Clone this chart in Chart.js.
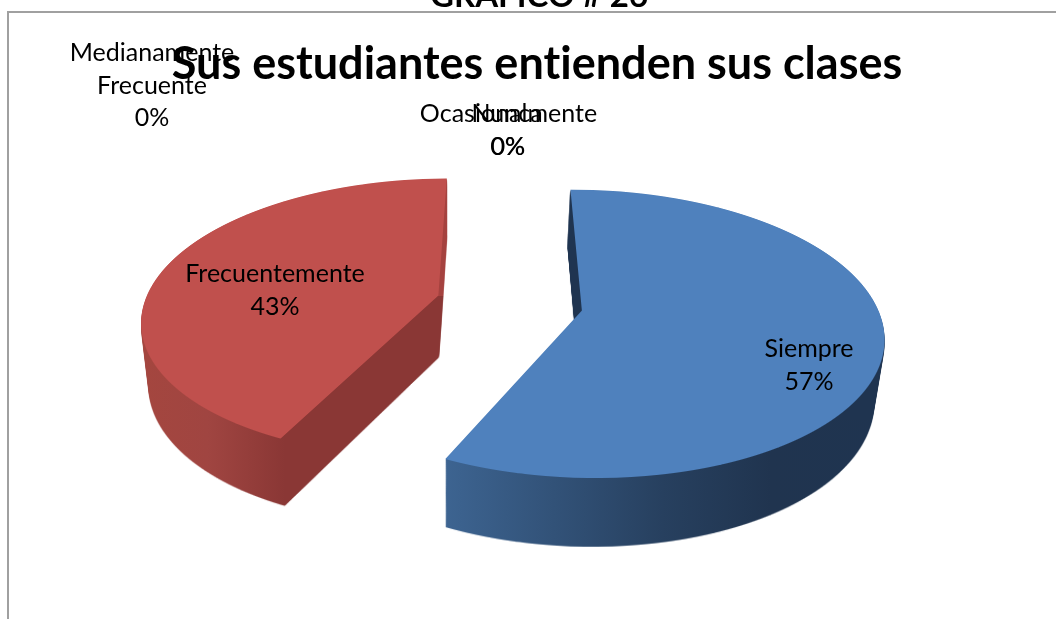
<!DOCTYPE html>
<html lang="es">
<head>
<meta charset="utf-8">
<style>html,body{margin:0;padding:0;background:#fff}canvas{display:block}</style>
<script src="https://cdn.jsdelivr.net/npm/chart.js@4/dist/chart.umd.min.js"></script>
</head>
<body>
<canvas id="c" width="1056" height="619" style="width:1056px;height:619px"></canvas>
<script>
const categories = ['Siempre', 'Frecuentemente', 'Medianamente\nFrecuente', 'Ocasionalmente', 'Nunca'];
const percentages = [57.14, 42.86, 0, 0, 0];
const percentLabels = ['57%', '43%', '0%', '0%', '0%'];
const sliceColors = ['#4f81bd', '#c0504d', '#9bbb59', '#8064a2', '#4bacc6'];
const chartTitle = 'Sus estudiantes entienden sus clases';
const pageHeading = 'GRAFICO # 26';

/* Label placement (centre x, first-line baseline y) */
const labelAnchors = [[809, 357], [275, 282], [152, 61], [508.5, 122], [507, 122]];
const percentNudge = [0, 0, 0, -0.5, 0.5];

/* Camera that tilts the flat pie into perspective */
const camera = {cx: 509.5, cy: 303, S: 294, K: 138, P: 0.16, explode: 0.25};
/* Extrusion of the pie: bottom face relative to top face */
const depth = {steps: 70, vx: 450, shrink: 0.025, dy: 58, dyRef: 185, dySlope: 0.0365};
const wallShades = [
  {from: 445, to: 880, stops: [[0, '#3d6491'], [0.5, '#27405f'], [0.75, '#20344f'], [1, '#1f3450']], patch: ['#1f3450', 420]},
  {from: 145, to: 285, stops: [[0, '#a4463f'], [0.45, '#a04541'], [1, '#8a3735']], patch: ['#a5423f', 296]}
];

const W = 1056, H = 619;

function warpSlice(arc, R, Cx, Cy) {
  const sil = document.createElement('canvas');
  sil.width = W; sil.height = H;
  const c = sil.getContext('2d');
  const {cx, cy, S, K, P, explode} = camera;
  const mid = (arc.startAngle + arc.endAngle) / 2;
  const ex = Math.cos(mid) * explode * R, ey = Math.sin(mid) * explode * R;
  for (let r = 120; r < 520; r++) {
    const d = r + 0.5 - cy;
    const Y = d / (K + P * d);
    if (Math.abs(Y) > 1.5) continue;
    const w = 1 / (1 - P * Y);
    const a = S * w / R;
    const e = K * w * w / R;
    c.save();
    c.beginPath(); c.rect(0, r, W, 1); c.clip();
    c.setTransform(a, 0, 0, e, cx - a * Cx, r + 0.5 - e * (Cy + Y * R));
    c.translate(ex, ey);
    arc.draw(c);
    c.restore();
  }
  return sil;
}

function buildWall(sil, shade) {
  const wall = document.createElement('canvas');
  wall.width = W; wall.height = H;
  const c = wall.getContext('2d');
  for (let i = depth.steps; i >= 1; i--) {
    const t = i / depth.steps;
    const sx = 1 - depth.shrink * t;
    const sy = 1 + depth.dySlope * t;
    c.setTransform(sx, 0, 0, sy, depth.vx * (1 - sx), t * (depth.dy - depth.dySlope * depth.dyRef));
    c.drawImage(sil, 0, 0);
  }
  c.setTransform(1, 0, 0, 1, 0, 0);
  c.globalCompositeOperation = 'source-atop';
  const g = c.createLinearGradient(shade.from, 0, shade.to, 0);
  shade.stops.forEach(s => g.addColorStop(s[0], s[1]));
  c.fillStyle = g;
  c.fillRect(0, 0, W, H);
  c.fillStyle = shade.patch[0];
  c.fillRect(0, 0, W, shade.patch[1]);
  return wall;
}

const pie3d = {
  id: 'pie3d',
  beforeDraw(chart) {
    const ctx = chart.ctx;
    ctx.letterSpacing = '0.01px';
    ctx.save();
    ctx.strokeStyle = '#a0a0a0';
    ctx.lineWidth = 2;
    ctx.beginPath();
    ctx.moveTo(8, H); ctx.lineTo(8, 12); ctx.lineTo(W, 12);
    ctx.stroke();
    ctx.fillStyle = '#000';
    ctx.font = 'bold 33px Lato';
    ctx.textAlign = 'center';
    ctx.textBaseline = 'alphabetic';
    ctx.fillText(pageHeading, 539, 7);
    ctx.restore();
  },
  beforeDatasetsDraw(chart) {
    const ctx = chart.ctx;
    const arcs = chart.getDatasetMeta(0).data;
    const faces = [], walls = [];
    arcs.forEach((arc, i) => {
      if (!(arc.circumference > 0)) return;
      const sil = warpSlice(arc, arc.outerRadius, arc.x, arc.y);
      faces.push(sil);
      walls.push(buildWall(sil, wallShades[i]));
    });
    walls.forEach(w => ctx.drawImage(w, 0, 0));
    faces.forEach(f => ctx.drawImage(f, 0, 0));
    return false;
  },
  afterDraw(chart) {
    const ctx = chart.ctx;
    ctx.save();
    ctx.fillStyle = '#000';
    ctx.font = '25px Lato';
    ctx.textAlign = 'center';
    ctx.textBaseline = 'alphabetic';
    const lh = 32.5;
    categories.forEach((cat, i) => {
      const lines = cat.split('\n').concat(percentLabels[i]);
      lines.forEach((ln, j) => {
        const isPct = j === lines.length - 1;
        ctx.fillText(ln, labelAnchors[i][0] + (isPct ? percentNudge[i] : 0), labelAnchors[i][1] + j * lh);
      });
    });
    ctx.restore();
  }
};

new Chart(document.getElementById('c'), {
  type: 'pie',
  data: {
    labels: categories,
    datasets: [{
      data: percentages,
      backgroundColor: sliceColors,
      borderWidth: 0,
      radius: 200
    }]
  },
  options: {
    responsive: false,
    animation: false,
    rotation: -0.3,
    layout: {padding: {left: 18}},
    plugins: {
      legend: {display: false},
      tooltip: {enabled: false},
      title: {
        display: true,
        text: chartTitle,
        color: '#000',
        font: {family: 'Lato', size: 45, weight: 'bold'},
        padding: {top: 37, bottom: 0}
      }
    }
  },
  plugins: [pie3d]
});
</script>
</body>
</html>
